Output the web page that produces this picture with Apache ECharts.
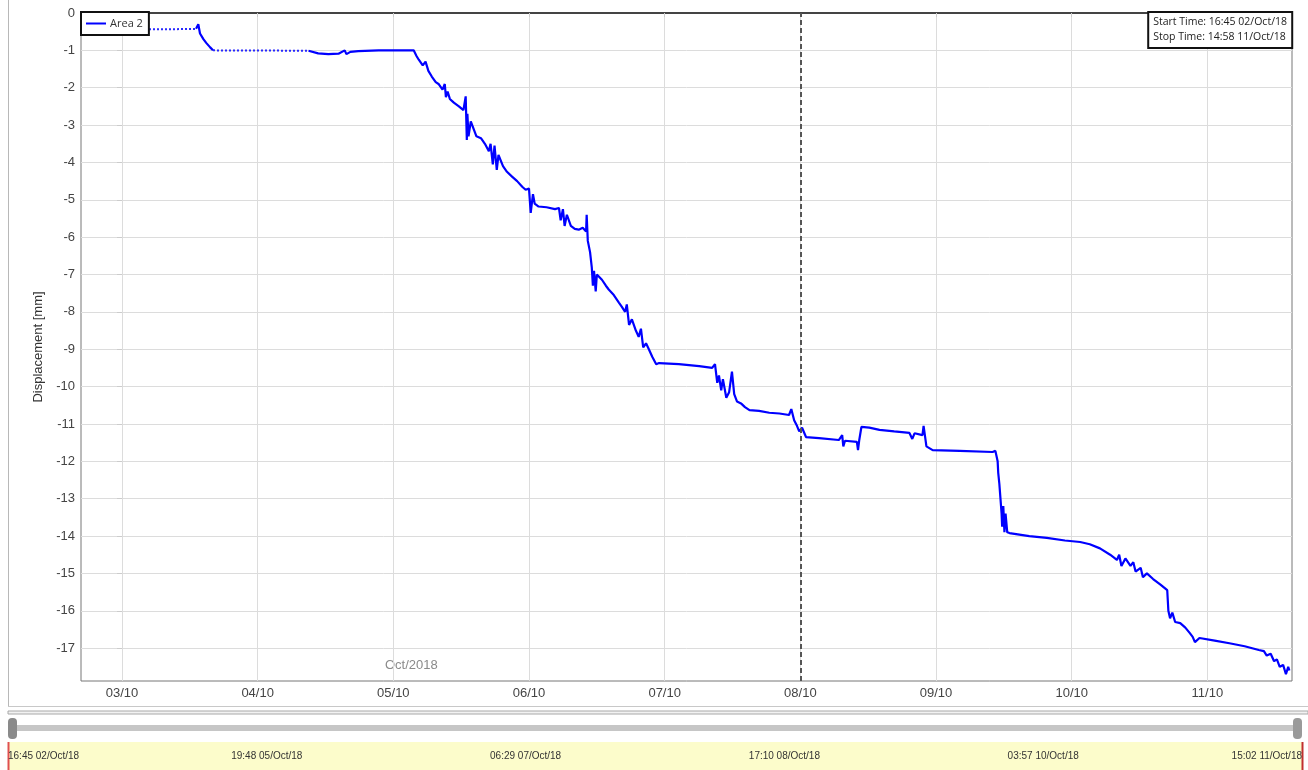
<!DOCTYPE html>
<html>
<head>
<meta charset="utf-8">
<script src="https://cdn.jsdelivr.net/npm/echarts@6/dist/echarts.min.js"></script>
<style>
  html, body { margin: 0; padding: 0; background: #fff; }
  #main { width: 1308px; height: 770px; }
</style>
</head>
<body>
<div id="main"></div>
<script>
// time is in hours after 03/Oct/18 00:00
var startHour = -7.25;   // 16:45 02/Oct/18
var stopHour = 206.97;   // 14:58 11/Oct/18
var markerHour = 120;    // 08/10 00:00, dashed line

// sparse (dotted) part of the record
var sparseHours = [-7.25, 13.1, 14.5, 16.1, 33.0];
var sparseDisp = [-0.44, -0.43, null, -1.0, -1.01];

// dense part of the record
var denseHours = [
  13.1, 13.5, 13.8, 14.4, 14.9, 15.6, 16.1, 24, 33.0, 33.3,
  34.7, 36.5, 38.3, 39.4, 39.7, 40.4, 41.8, 45.4, 48.9, 51.6,
  52.1, 52.5, 53.2, 53.7, 54.2, 54.8, 55.5, 56.0, 56.7, 57.1,
  57.3, 57.6, 58.0, 58.7, 59.6, 60.4, 60.8, 61.0, 61.1, 61.3,
  61.7, 62.2, 62.7, 63.5, 64.2, 64.9, 65.2, 65.6, 65.9, 66.3,
  66.6, 67.4, 68.1, 69.0, 69.9, 70.8, 71.4, 72.0, 72.3, 72.7,
  73.0, 73.7, 75.1, 76.6, 77.3, 77.6, 78.0, 78.3, 78.7, 79.4,
  80.1, 80.8, 81.5, 82.1, 82.2, 82.4, 82.8, 83.1, 83.3, 83.5,
  83.8, 84.0, 84.9, 85.6, 86.1, 87.0, 87.9, 88.4, 89.0, 89.3,
  89.7, 90.2, 90.9, 91.4, 91.8, 92.2, 92.7, 93.2, 93.8, 94.5,
  95.0, 98.5, 102.1, 104.4, 104.9, 105.3, 105.6, 106.0, 106.3, 106.9,
  107.4, 107.9, 108.3, 108.8, 109.5, 110.2, 111.0, 112.7, 114.5, 116.3,
  118.0, 118.4, 118.9, 119.4, 119.8, 120.3, 121.0, 123.3, 126.8, 127.4,
  127.6, 127.9, 130.0, 130.2, 130.4, 130.8, 132.2, 134.0, 136.6, 139.3,
  139.8, 140.2, 141.6, 141.8, 142.3, 143.4, 148.2, 154.0, 154.5, 154.9,
  155.0, 155.2, 155.4, 155.6, 155.7, 155.9, 156.1, 156.3, 156.6, 157.0,
  160.5, 163.6, 166.8, 169.5, 171.2, 173.0, 174.8, 176.0, 176.4, 176.8,
  177.5, 178.4, 178.9, 179.3, 180.2, 180.6, 181.3, 182.4, 183.7, 184.9,
  185.1, 185.4, 185.8, 186.3, 187.2, 188.1, 188.9, 189.4, 189.8, 190.6,
  193.3, 195.9, 198.6, 201.1, 202.0, 202.5, 203.2, 203.8, 204.3, 204.8,
  205.4, 205.9, 206.3, 206.5
];
var denseDisp = [
  -0.42, -0.3, -0.55, -0.7, -0.8, -0.92, -1.0, null, -1.01, -1.06,
  -1.08, -1.1, -1.09, -1.0, -1.1, -1.04, -1.02, -1.0, -1.0, -1.0,
  -1.15, -1.25, -1.4, -1.3, -1.55, -1.7, -1.85, -1.9, -2.05, -1.9,
  -2.25, -2.1, -2.3, -2.4, -2.5, -2.6, -2.23, -3.4, -2.7, -3.3,
  -2.9, -3.1, -3.3, -3.35, -3.5, -3.7, -3.5, -4.05, -3.55, -4.2,
  -3.8, -4.1, -4.25, -4.38, -4.5, -4.65, -4.73, -4.7, -5.35, -4.85,
  -5.1, -5.18, -5.2, -5.25, -5.22, -5.55, -5.25, -5.7, -5.4, -5.7,
  -5.78, -5.8, -5.75, -5.85, -5.4, -6.1, -6.4, -6.8, -7.3, -6.9,
  -7.45, -7.0, -7.14, -7.3, -7.4, -7.55, -7.75, -7.86, -8.0, -7.8,
  -8.35, -8.2, -8.5, -8.67, -8.45, -8.95, -8.84, -9.0, -9.2, -9.4,
  -9.37, -9.4, -9.45, -9.5, -9.4, -9.9, -9.7, -10.1, -9.8, -10.3,
  -10.15, -9.6, -10.2, -10.4, -10.45, -10.55, -10.63, -10.65, -10.7, -10.72,
  -10.76, -10.6, -10.9, -11.05, -11.2, -11.1, -11.35, -11.38, -11.43, -11.3,
  -11.6, -11.45, -11.48, -11.7, -11.45, -11.08, -11.1, -11.16, -11.2, -11.24,
  -11.4, -11.25, -11.3, -11.05, -11.6, -11.7, -11.72, -11.75, -11.72, -12.0,
  -12.3, -12.6, -13.0, -13.4, -13.75, -13.2, -13.9, -13.4, -13.9, -13.92,
  -14.0, -14.05, -14.12, -14.16, -14.22, -14.33, -14.5, -14.64, -14.5, -14.8,
  -14.6, -14.8, -14.7, -14.95, -14.85, -15.1, -15.0, -15.15, -15.3, -15.45,
  -16.0, -16.2, -16.05, -16.3, -16.33, -16.45, -16.6, -16.7, -16.84, -16.73,
  -16.8, -16.87, -16.95, -17.05, -17.08, -17.2, -17.15, -17.35, -17.3, -17.5,
  -17.45, -17.7, -17.5, -17.6
];

// axis ticks
var dayLabels = ['03/10', '04/10', '05/10', '06/10', '07/10', '08/10', '09/10', '10/10', '11/10'];
var dayHours = [0, 24, 48, 72, 96, 120, 144, 168, 192];
var yTicks = [0, -1, -2, -3, -4, -5, -6, -7, -8, -9, -10, -11, -12, -13, -14, -15, -16, -17];
var bandLabels = ['16:45 02/Oct/18', '19:48 05/Oct/18', '06:29 07/Oct/18', '17:10 08/Oct/18', '03:57 10/Oct/18', '15:02 11/Oct/18'];

function pairs(hours, vals) {
  return hours.map(function (h, i) { return [h, vals[i]]; });
}

var axisFont = 'Liberation Sans, Arial, sans-serif';
var uiFont = 'Open Sans, Noto Sans, sans-serif';

var chart = echarts.init(document.getElementById('main'), null, { renderer: 'canvas' });

var option = {
  animation: false,
  backgroundColor: '#fff',
  title: {
    text: 'Start Time: 16:45 02/Oct/18\nStop Time: 14:58 11/Oct/18',
    right: 16,
    top: 12,
    padding: [3, 5, 3, 5],
    borderColor: '#111',
    borderWidth: 2,
    backgroundColor: '#fff',
    textStyle: {
      fontFamily: uiFont,
      fontSize: 10.5,
      fontWeight: 'normal',
      color: '#222',
      lineHeight: 15
    }
  },
  legend: {
    data: ['Area 2'],
    left: 81,
    top: 12,
    padding: [6, 6, 6, 5],
    icon: 'rect',
    itemWidth: 20,
    itemHeight: 2,
    itemGap: 4,
    borderColor: '#111',
    borderWidth: 2,
    backgroundColor: '#fff',
    textStyle: { fontFamily: uiFont, fontSize: 11, color: '#333', padding: [0, 0, 0, -1] },
    selectedMode: false
  },
  grid: [{
    left: 81, right: 16, top: 13, bottom: 89,
    show: true, borderColor: '#777', borderWidth: 1
  }, {
    left: 8, right: 6, top: 742, height: 28,
    show: true, backgroundColor: '#fcfccb', borderWidth: 0
  }],
  xAxis: [{
    type: 'value',
    gridIndex: 0,
    min: startHour,
    max: stopHour,
    axisLine: { lineStyle: { color: '#444', width: 2 } },
    axisTick: { show: true, customValues: dayHours, length: 4, lineStyle: { color: '#ccc' } },
    axisLabel: {
      customValues: dayHours,
      margin: 6,
      fontFamily: axisFont,
      fontSize: 13,
      color: '#444',
      formatter: function (v) {
        return dayLabels[dayHours.indexOf(v)];
      }
    },
    splitLine: { show: true, lineStyle: { color: '#dcdcdc', width: 1 } }
  }, {
    type: 'category',
    gridIndex: 1,
    position: 'top',
    data: bandLabels,
    boundaryGap: false,
    axisLine: { lineStyle: { color: '#666', width: 1 } },
    axisTick: { show: true, inside: true, length: 5, interval: 0, lineStyle: { color: '#444' } },
    axisLabel: {
      inside: true,
      interval: 0,
      margin: 9,
      fontFamily: axisFont,
      fontSize: 10,
      color: '#333',
      alignMinLabel: 'left',
      alignMaxLabel: 'right'
    },
    splitLine: { show: false }
  }],
  yAxis: [{
    type: 'value',
    gridIndex: 0,
    min: -17.88,
    max: 0,
    name: 'Displacement [mm]',
    nameLocation: 'middle',
    nameRotate: 90,
    nameGap: 30,
    nameTextStyle: { fontFamily: axisFont, fontSize: 13, color: '#333' },
    axisLine: { show: false },
    axisTick: { show: true, customValues: yTicks, length: 5, lineStyle: { color: '#ccc' } },
    axisLabel: {
      customValues: yTicks,
      margin: 6,
      fontFamily: axisFont,
      fontSize: 13,
      color: '#444'
    },
    splitLine: { show: true, lineStyle: { color: '#dcdcdc', width: 1 } }
  }, {
    type: 'value',
    gridIndex: 1,
    show: false
  }],
  graphic: [
    { type: 'line', shape: { x1: 8.5, y1: 0, x2: 8.5, y2: 706 }, style: { stroke: '#b8b8b8', lineWidth: 1 } },
    { type: 'line', shape: { x1: 8, y1: 706.5, x2: 1308, y2: 706.5 }, style: { stroke: '#c8c8c8', lineWidth: 1 } },
    { type: 'rect', shape: { x: 8, y: 711, width: 1300, height: 3 }, style: { fill: '#f2f2f2', stroke: '#a8a8a8', lineWidth: 1 } },
    { type: 'rect', shape: { x: 12, y: 725, width: 1286, height: 6 }, style: { fill: '#c6c6c6' } },
    { type: 'rect', shape: { x: 8, y: 718, width: 9, height: 21, r: 4 }, style: { fill: '#8a8a8a' } },
    { type: 'rect', shape: { x: 1293, y: 718, width: 9, height: 21, r: 4 }, style: { fill: '#9a9a9a' } },
    { type: 'line', shape: { x1: 8.5, y1: 742, x2: 8.5, y2: 770 }, style: { stroke: '#e05050', lineWidth: 2 } },
    { type: 'line', shape: { x1: 1302.5, y1: 742, x2: 1302.5, y2: 770 }, style: { stroke: '#c03030', lineWidth: 2 } },
    {
      type: 'text', left: 385, top: 659,
      style: { text: 'Oct/2018', fill: '#8a8a8a', font: '13px Liberation Sans, Arial, sans-serif' }
    }
  ],
  series: [{
    name: 'Area 2',
    type: 'line',
    xAxisIndex: 0,
    yAxisIndex: 0,
    data: pairs(denseHours, denseDisp),
    showSymbol: false,
    connectNulls: false,
    color: '#0000ff',
    lineStyle: { color: '#0000ff', width: 2.2 },
    markLine: {
      silent: true,
      symbol: 'none',
      label: { show: false },
      lineStyle: { color: '#555', width: 2, type: [5, 3] },
      data: [{ xAxis: markerHour }]
    }
  }, {
    name: 'Area 2',
    type: 'line',
    xAxisIndex: 0,
    yAxisIndex: 0,
    data: pairs(sparseHours, sparseDisp),
    showSymbol: false,
    connectNulls: false,
    color: '#0000ff',
    lineStyle: { color: '#2828ff', width: 2, type: [2, 2] }
  }]
};

chart.setOption(option);
</script>
</body>
</html>
